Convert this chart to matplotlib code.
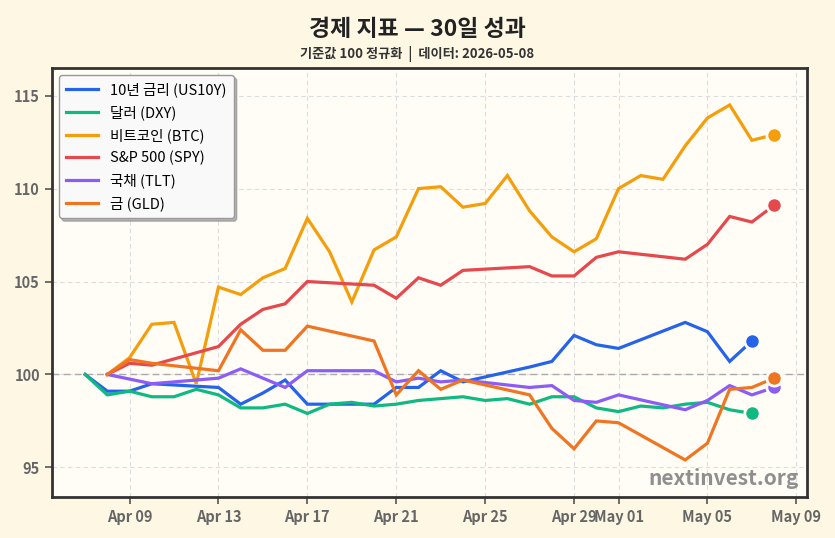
import numpy as np
import pandas as pd
import matplotlib
matplotlib.use('Agg')
import matplotlib.pyplot as plt
import matplotlib.dates as mdates

plt.rcParams['font.family'] = ['Noto Sans CJK KR', 'DejaVu Sans']

# dates
wk_07 = pd.bdate_range('2026-04-07', '2026-05-07')   # weekdays from Apr 07
wk_08 = pd.bdate_range('2026-04-08', '2026-05-08')   # weekdays from Apr 08
day_07 = pd.date_range('2026-04-07', '2026-05-07')   # every day from Apr 07
day_08 = pd.date_range('2026-04-08', '2026-05-08')   # every day from Apr 08

# values (base 100)
us10y = [100.0, 99.1, 99.1, 99.5, 99.3, 98.4, 99.0, 99.7, 98.4, 98.4, 99.3, 99.3,
         100.2, 99.6, 100.4, 100.7, 102.1, 101.6, 101.4, 102.8, 102.3, 100.7, 101.8]
dxy = [100.0, 98.9, 99.1, 98.8, 98.8, 99.2, 98.9, 98.2, 98.2, 98.4, 97.9, 98.4,
       98.5, 98.3, 98.4, 98.6, 98.7, 98.8, 98.6, 98.7, 98.4, 98.8, 98.8, 98.2,
       98.0, 98.3, 98.2, 98.4, 98.5, 98.1, 97.9]
btc = [100.0, 100.9, 102.7, 102.8, 99.5, 104.7, 104.3, 105.2, 105.7, 108.4, 106.6,
       103.9, 106.7, 107.4, 110.0, 110.1, 109.0, 109.2, 110.7, 108.8, 107.4, 106.6,
       107.3, 110.0, 110.7, 110.5, 112.3, 113.8, 114.5, 112.6, 112.9]
spy = [100.0, 100.6, 100.5, 101.5, 102.7, 103.5, 103.8, 105.0, 104.8, 104.1, 105.2,
       104.8, 105.6, 105.8, 105.3, 105.3, 106.3, 106.6, 106.2, 107.0, 108.5, 108.2, 109.1]
tlt = [100.0, 99.75, 99.5, 99.8, 100.3, 99.8, 99.3, 100.2, 100.2, 99.6, 99.8, 99.6,
       99.7, 99.3, 99.4, 98.6, 98.5, 98.9, 98.1, 98.6, 99.4, 98.9, 99.3]
gld = [100.0, 100.8, 100.6, 100.2, 102.4, 101.3, 101.3, 102.6, 101.8, 98.9, 100.2,
       99.2, 99.7, 98.9, 97.1, 96.0, 97.5, 97.4, 95.4, 96.3, 99.2, 99.3, 99.8]

series = [
    ('10년 금리 (US10Y)', wk_07, us10y, '#2563eb'),
    ('달러 (DXY)', day_07, dxy, '#10b981'),
    ('비트코인 (BTC)', day_08, btc, '#f59e0b'),
    ('S&P 500 (SPY)', wk_08, spy, '#e5484d'),
    ('국채 (TLT)', wk_08, tlt, '#8b5cf6'),
    ('금 (GLD)', wk_08, gld, '#f07522'),
]

bg = '#fdf7e4'
axbg = '#fffdf6'

fig = plt.figure(figsize=(8.35, 5.38), dpi=100, facecolor=bg)
ax = fig.add_axes([0.062, 0.076, 0.905, 0.798])
ax.set_facecolor(axbg)

for name, d, v, c in series:
    ax.plot(d, v, color=c, lw=2.3, label=name, solid_joinstyle='miter', zorder=3)
    ax.plot(d[-1], v[-1], 'o', color=c, ms=11, mec=axbg, mew=2, zorder=4)

ax.axhline(100, color='#aaaaaa', ls=(0, (5, 3)), lw=1, zorder=2)

allv = us10y + dxy + btc + spy + tlt + gld
ax.set_ylim(min(allv) - 2, max(allv) + 2)
ax.set_yticks([95, 100, 105, 110, 115])

ax.xaxis.set_major_locator(mdates.DayLocator(bymonthday=[1, 5, 9, 13, 17, 21, 25, 29]))
ax.xaxis.set_major_formatter(mdates.DateFormatter('%b %d'))
ax.set_xlim(pd.Timestamp('2026-04-05 12:00'), pd.Timestamp('2026-05-09 12:00'))

ax.grid(True, color='#dddddd', ls=(0, (4, 3)), lw=0.8, zorder=0)
for s in ax.spines.values():
    s.set_color('#333333')
    s.set_linewidth(2)
ax.tick_params(colors='#555555', labelsize=10.5, width=1.2, length=5)
for lab in ax.get_xticklabels() + ax.get_yticklabels():
    lab.set_fontweight('bold')
    lab.set_color('#666666')

leg = ax.legend(loc='upper left', fontsize=10.5, frameon=True, fancybox=True,
                shadow={'color': '#888888', 'alpha': 0.6},
                facecolor='#f9f9f9', edgecolor='#999999', framealpha=1,
                handlelength=2.2, labelspacing=0.55, borderpad=0.5)
leg.get_frame().set_linewidth(1)

ax.text(0.988, 0.018, 'nextinvest.org', transform=ax.transAxes, ha='right', va='bottom',
        fontsize=15, fontweight='bold', color='#8f8f8f', zorder=5)

fig.text(0.5, 0.946, '경제 지표 — 30일 성과', ha='center', va='center',
         fontsize=16.5, fontweight='bold', color='#222222')
fig.text(0.5, 0.900, '기준값 100 정규화  |  데이터: 2026-05-08', ha='center', va='center',
         fontsize=9.5, fontweight='bold', color='#333333')

fig.savefig('out.png', dpi=100, facecolor=bg)
